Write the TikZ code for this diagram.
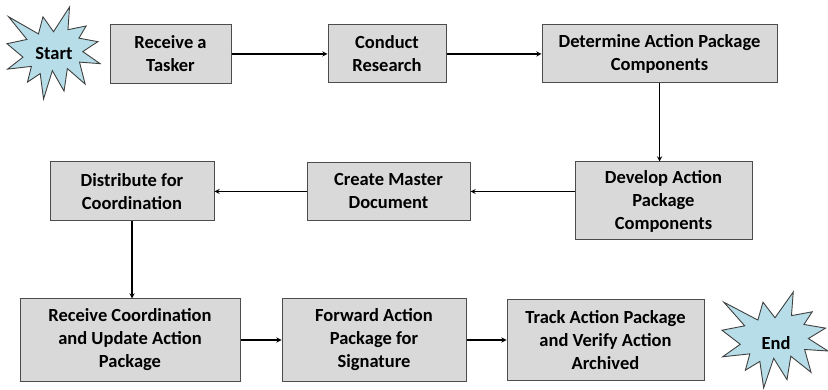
\documentclass[tikz,border=0pt]{standalone}
\usepackage{fontspec}
\setmainfont{Carlito}
\usepackage{tikz}
\definecolor{burstcyan}{HTML}{B7DEE8}
\newcommand{\explosion}{(108,58) -- (145.22,0) -- (141.55,53.25) -- (183.80,44.57)
  -- (167.02,73.15) -- (210.97,81.37) -- (176.07,104.75) -- (216,132.90)
  -- (168.37,129.42) -- (181.45,180.95) -- (140.20,144.57) -- (132.47,197.37)
  -- (105.32,149.35) -- (84.85,216) -- (77.15,156.27) -- (47.62,176.17)
  -- (56.67,139.37) -- (1.35,145.87) -- (37.22,117.75) -- (0,86.15)
  -- (46.27,76.17) -- (3.70,22.95) -- (73.12,63.20) -- (83.52,22.95) -- cycle}

\begin{document}
\begin{tikzpicture}[x=1pt, y=-1pt, >=stealth,
  every step/.style={draw=black!70, fill=black!15, line width=1pt, align=center,
    inner sep=0pt, font=\bfseries\fontsize{18.5}{23}\selectfont},
  burst/.style={draw=black!75, fill=burstcyan, line width=0.9pt},
  burst text/.style={font=\bfseries\fontsize{18.5}{23}\selectfont}]
\useasboundingbox (0,0) rectangle (828,390);

% top row
\node [every step/.try, minimum width=121, minimum height=59] (step-1) at (170.5,54) {Receive a\\Tasker};
\node [every step/.try, minimum width=118, minimum height=58] (step-2) at (387,54) {Conduct\\Research};
\node [every step/.try, minimum width=235, minimum height=58] (step-3) at (659.5,54) {Determine Action Package\\Components};

% middle row
\node [every step/.try, minimum width=177, minimum height=78] (step-4) at (663.5,201) {Develop Action\\Package\\Components};
\node [every step/.try, minimum width=163, minimum height=58] (step-5) at (388.5,191.5) {Create Master\\Document};
\node [every step/.try, minimum width=164, minimum height=59] (step-6) at (132,191.5) {Distribute for\\Coordination};

% bottom row
\node [every step/.try, minimum width=220, minimum height=82] (step-7) at (130,340) {Receive Coordination\\and Update Action\\Package};
\node [every step/.try, minimum width=184, minimum height=82] (step-8) at (374,340) {Forward Action\\Package for\\Signature};
\node [every step/.try, minimum width=197, minimum height=80] (step-9) at (605.5,340) {Track Action Package\\and Verify Action\\Archived};

% start and end
\begin{scope}[shift={(7,7)}, xscale=0.4306, yscale=0.426]
  \draw [burst] \explosion;
\end{scope}
\node [burst text] (start) at (54,54) {Start};

\begin{scope}[shift={(722,292)}, xscale=0.4907, yscale=0.444]
  \draw [burst] \explosion;
\end{scope}
\node [burst text] (end) at (776,343) {End};

\foreach \i/\j in {1/2,2/3,5/6,7/8,8/9}
  \draw [->, line width=1.3pt] (step-\i) -- (step-\j);

\draw [->, line width=1.3pt] (step-3) -- (step-3 |- step-4.north);
\draw [->, line width=1.3pt] (step-4.west |- step-5) -- (step-5);
\draw [->, line width=1.3pt] (step-6) -- (step-6 |- step-7.north);
\end{tikzpicture}
\end{document}
